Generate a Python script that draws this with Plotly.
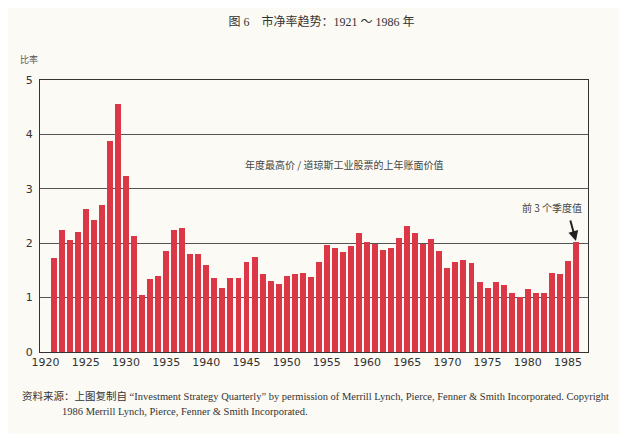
import plotly.graph_objects as go

# Price-to-book ratio, 1921-1986
years = list(range(1921, 1987))
ratio = [
    1.72, 2.25, 2.06, 2.20, 2.63, 2.42, 2.71, 3.87, 4.56, 3.23,
    2.14, 1.04, 1.34, 1.39, 1.85, 2.25, 2.28, 1.80, 1.80, 1.60,
    1.36, 1.17, 1.36, 1.36, 1.66, 1.75, 1.44, 1.30, 1.25, 1.39,
    1.43, 1.45, 1.38, 1.66, 1.96, 1.92, 1.83, 1.95, 2.18, 2.02,
    1.99, 1.88, 1.91, 2.09, 2.32, 2.19, 1.98, 2.07, 1.86, 1.55,
    1.66, 1.70, 1.64, 1.28, 1.18, 1.28, 1.24, 1.08, 1.01, 1.15,
    1.09, 1.09, 1.45, 1.44, 1.68, 2.02,
]
x_ticks = [1920, 1925, 1930, 1935, 1940, 1945, 1950, 1955, 1960, 1965, 1970, 1975, 1980, 1985]
y_ticks = [0, 1, 2, 3, 4, 5]

paper = "#fbfaf4"
red = "#db3747"
cjk = "Noto Sans CJK SC"

fig = go.Figure()
fig.add_trace(go.Bar(
    x=years, y=ratio,
    width=0.74,
    marker=dict(color=red, line=dict(width=0)),
    hoverinfo="x+y",
))

# page body adds 8px offset, margins compensate for it
fig.update_layout(
    width=627, height=434,
    margin=dict(l=32, r=47, t=72, b=90),
    paper_bgcolor=paper, plot_bgcolor=paper,
    showlegend=False,
    bargap=0,
    title=dict(
        text="图 6　市净率趋势：1921 ～ 1986 年",
        x=0.5, xanchor="center", y=0.968, yanchor="middle",
        font=dict(family="Liberation Serif, " + cjk, size=12, color="#333"),
    ),
)

fig.update_xaxes(
    range=[1919.3, 1987.5],
    tickvals=x_ticks,
    ticks="", showgrid=False,
    showline=True, linecolor="#333", linewidth=1.2, mirror=True,
    tickfont=dict(family="DejaVu Sans", size=11, color="#333"),
    zeroline=False,
)
fig.update_yaxes(
    range=[0, 5],
    tickvals=y_ticks,
    ticks="", showgrid=True, gridcolor="#555", gridwidth=0.8,
    showline=True, linecolor="#333", linewidth=1.2, mirror=True,
    tickfont=dict(family="DejaVu Sans", size=11, color="#333"),
    ticklabelstandoff=4,
    zeroline=False,
)

# axis unit label
fig.add_annotation(
    text="比率", xref="paper", yref="paper", x=-0.02, y=1.077,
    xanchor="center", yanchor="middle", showarrow=False,
    font=dict(family=cjk, size=9, color="#555"),
)

# series description
fig.add_annotation(
    text="年度最高价 / 道琼斯工业股票的上年账面价值",
    xref="paper", yref="y", x=0.555, y=3.44,
    xanchor="center", yanchor="middle", showarrow=False,
    font=dict(family=cjk, size=10, color="#444"),
)

# note and arrow to the last bar
fig.add_annotation(
    text="前 3 个季度值",
    xref="paper", yref="y", x=0.934, y=2.65,
    xanchor="center", yanchor="middle", showarrow=False,
    font=dict(family=cjk, size=10, color="#444"),
)
fig.add_annotation(
    text="",
    x=years[-1], y=ratio[-1] + 0.02, xref="x", yref="y",
    ax=-6, ay=-22, axref="pixel", ayref="pixel",
    showarrow=True, arrowhead=2, arrowsize=1, arrowwidth=2, arrowcolor="#222",
    standoff=0,
)

# source note
fig.add_annotation(
    text="资料来源：上图复制自 “Investment Strategy Quarterly” by permission of Merrill Lynch, Pierce, Fenner & Smith Incorporated. Copyright",
    xref="paper", yref="paper", x=-0.0365, y=-0.162,
    xanchor="left", yanchor="middle", showarrow=False,
    font=dict(family="Liberation Serif, " + cjk, size=10.5, color="#333"),
)
fig.add_annotation(
    text="1986 Merrill Lynch, Pierce, Fenner & Smith Incorporated.",
    xref="paper", yref="paper", x=0.0365, y=-0.217,
    xanchor="left", yanchor="middle", showarrow=False,
    font=dict(family="Liberation Serif", size=10.5, color="#333"),
)

fig.write_html("out.html")
